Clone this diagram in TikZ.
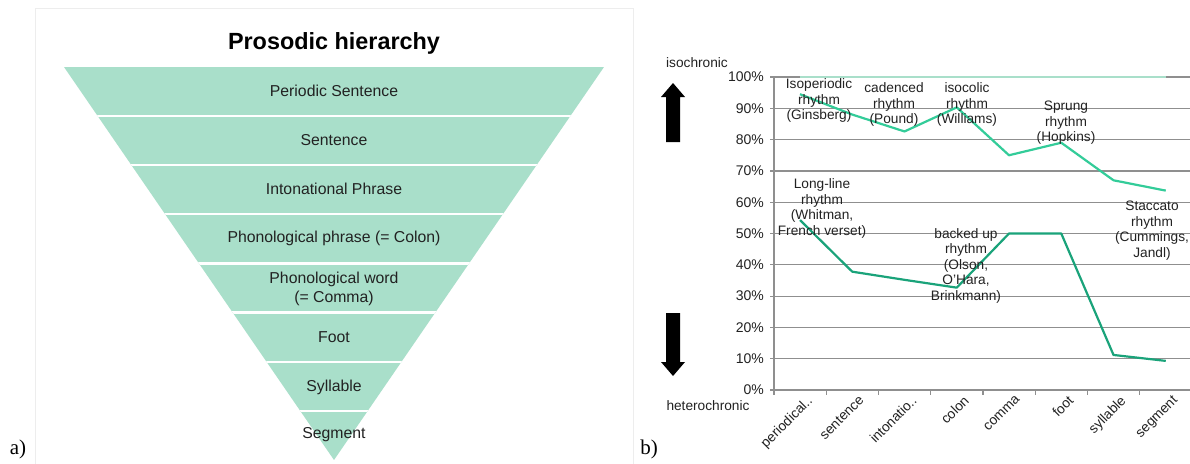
\documentclass[tikz,border=0pt]{standalone}
\usepackage{fontspec}
\setmainfont{Liberation Serif}
\setsansfont{Liberation Sans}
\usetikzlibrary{positioning}
\definecolor{mint}{HTML}{A9DFCA}
\definecolor{upperline}{HTML}{33CC99}
\definecolor{lowerline}{HTML}{1AA37A}
\definecolor{gridgray}{HTML}{8F8F8F}
\definecolor{textgray}{HTML}{222222}

\begin{document}
\begin{tikzpicture}[x = 1pt, y = -1pt,
  band/.style = {font = \sffamily\fontsize{15.8}{18.5}\selectfont, text = textgray, align = center},
  note/.style = {font = \sffamily\fontsize{13.7}{15.5}\selectfont, text = textgray, align = center, inner sep = 0pt},
  ytick/.style = {font = \sffamily\fontsize{14}{15}\selectfont, text = textgray, anchor = east, inner sep = 0pt},
  xtick/.style = {font = \sffamily\fontsize{13.7}{15}\selectfont, text = textgray, rotate = 45, anchor = north east, inner sep = 1pt},
  gridline/.style = {gridgray, line width = 1.2pt},
  panel/.style = {font = \fontsize{21}{24}\selectfont}]
  \useasboundingbox (0,0) rectangle (1190,463);
  \fill[white] (0,0) rectangle (1190,463);

  % left: pyramid
  \draw[black!7, line width = 0.8pt] (35,8) rectangle (633,470);
  \coordinate (top) at (334,67);
  \node [font = \sffamily\bfseries\fontsize{23.4}{26}\selectfont, above = 9pt of top] (title) {Prosodic hierarchy};
  \begin{scope}
    \clip (64,67) -- (604,67) -- (334,460) -- cycle;
    \fill[mint] (64,67) rectangle (604,460);
    \foreach \k in {1,...,7}
      \draw[white, line width = 2.2pt] (60,{67+49.1*\k}) -- (610,{67+49.1*\k});
  \end{scope}
  \node [band] (l1) at (334,91) {Periodic Sentence};
  \node [band] (l2) at (334,140) {Sentence};
  \node [band] (l3) at (334,189) {Intonational Phrase};
  \node [band] (l4) at (334,238) {Phonological phrase (= Colon)};
  \node [band] (l5) at (334,289) {Phonological word\\(= Comma)};
  \node [band] (l6) at (334,337) {Foot};
  \node [band] (l7) at (334,387) {Syllable};
  \node [band] (l8) at (334,435) {Segment};
  \node [panel] (a) at (18,449) {a)};

  % right: chart
  \foreach \p in {0,10,...,100} {
    \draw[gridline] (770,{390-3.13*\p}) -- (1190,{390-3.13*\p});
    \node [ytick] at (764,{390-3.13*\p}) {\p\%};
  }
  \draw[gridline] (774,77) -- (774,390);
  \foreach \k in {0,...,8}
    \draw[gridline] ({774+52.25*\k},390) -- ({774+52.25*\k},395);
  \foreach \t [count = \i from 0] in {{periodical..},sentence,{intonatio..},colon,comma,foot,syllable,segment}
    \node [xtick] (x\i) at ({806+52.25*\i},393) {\t};

  % data
  \foreach \v [count = \i from 0] in {94.5,88,82.6,90.3,75,79,67,63.7}
    \coordinate (u\i) at ({800+52.25*\i},{390-3.13*\v});
  \foreach \v [count = \i from 0] in {54.3,37.8,35.2,32.7,50,50,11.2,9.3}
    \coordinate (d\i) at ({800+52.25*\i},{390-3.13*\v});
  \draw[mint, line width = 2pt] (800,77) -- (1166,77);
  \draw[upperline, line width = 2.2pt, line join = round]
    (u0) -- (u1) -- (u2) -- (u3) -- (u4) -- (u5) -- (u6) -- (u7);
  \draw[lowerline, line width = 2.2pt, line join = round]
    (d0) -- (d1) -- (d2) -- (d3) -- (d4) -- (d5) -- (d6) -- (d7);

  % annotations
  \node [note] (iso) at (819,100.5) {Isoperiodic\\rhythm\\(Ginsberg)};
  \node [note] (cad) at (894,104.5) {cadenced\\rhythm\\(Pound)};
  \node [note] (col) at (967,104.5) {isocolic\\rhythm\\(Williams)};
  \node [note] (spr) at (1066,123) {Sprung\\rhythm\\(Hopkins)};
  \node [note] (lng) at (822,208.5) {Long-line\\rhythm\\(Whitman,\\French verset)};
  \node [note] (bck) at (966,265.5) {backed up\\rhythm\\(Olson,\\O'Hara,\\Brinkmann)};
  \node [note] (stc) at (1152,230.5) {Staccato\\rhythm\\(Cummings,\\Jandl)};

  % arrows
  \fill (673,83) -- (685,97) -- (680,97) -- (680,142) -- (666,142) -- (666,97) -- (661,97) -- cycle;
  \fill (673,376) -- (685,362) -- (680,362) -- (680,313) -- (666,313) -- (666,362) -- (661,362) -- cycle;
  \node [note] (isoc) at (697,63) {isochronic};
  \node [note] (hetc) at (708,406) {heterochronic};
  \node [panel] (b) at (649,449) {b)};
\end{tikzpicture}
\end{document}
